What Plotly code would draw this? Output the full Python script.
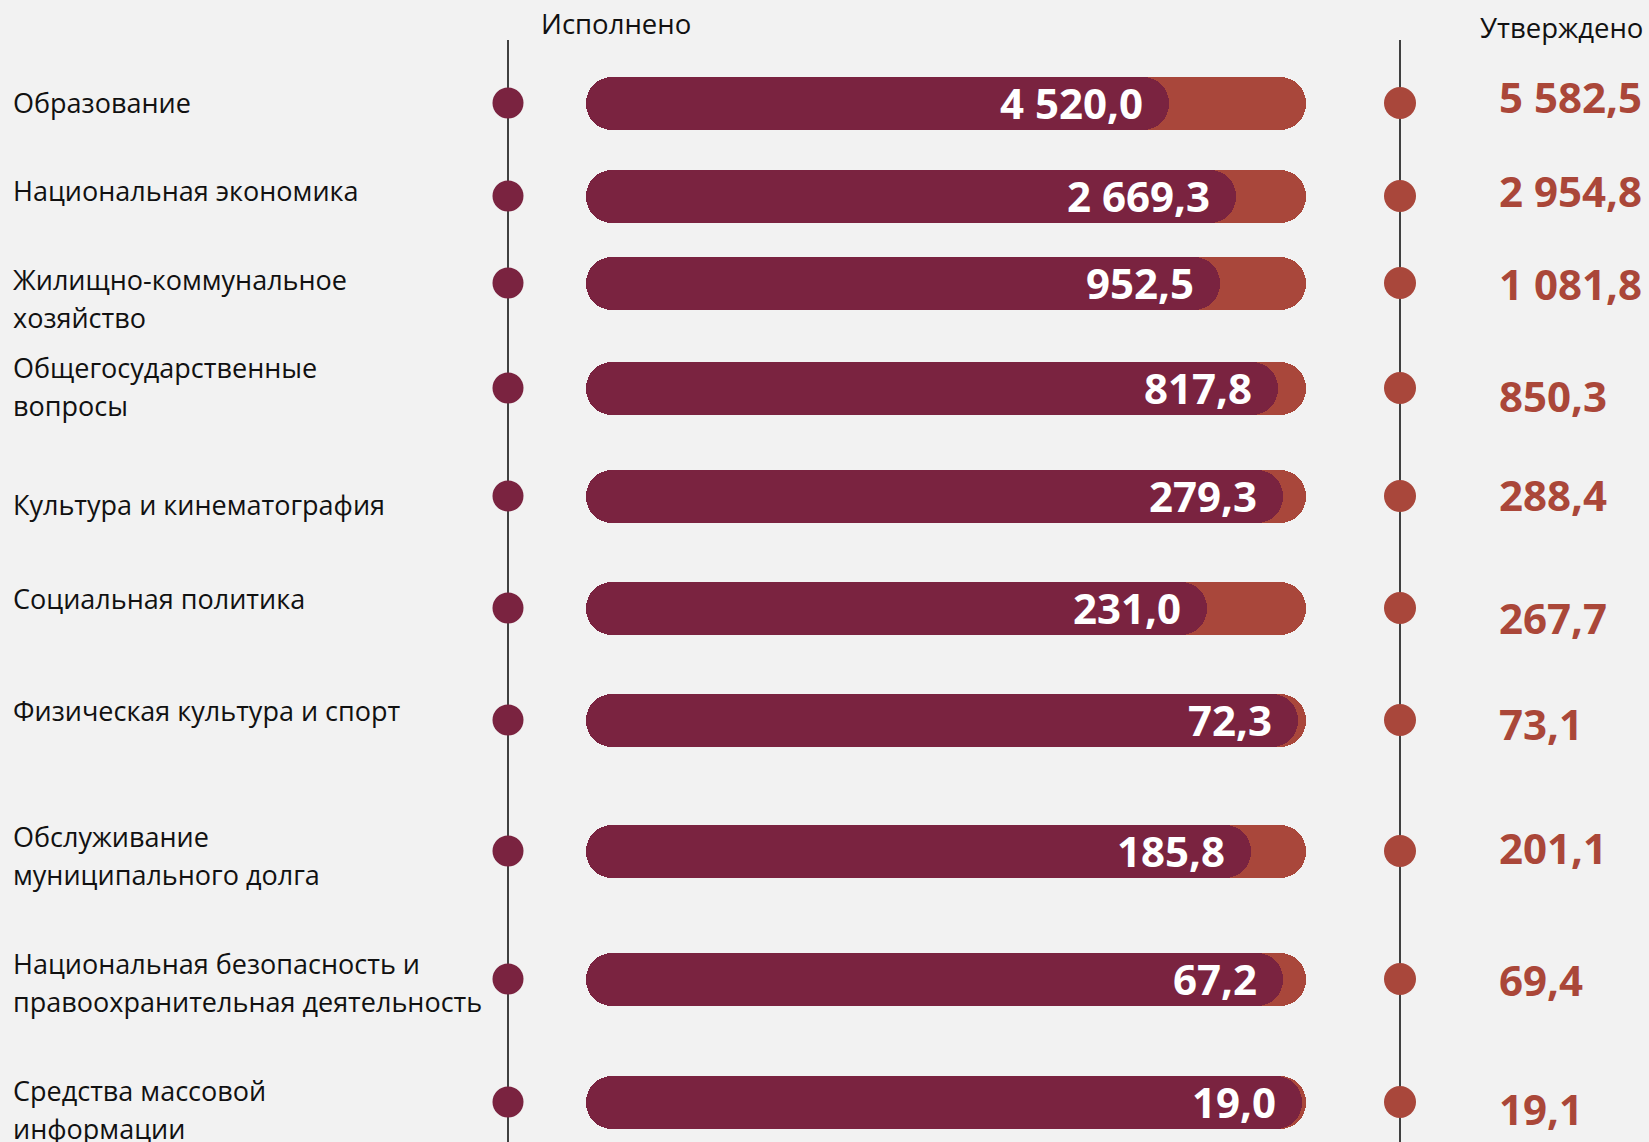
import plotly.graph_objects as go

# ---- data ----
categories = [
    "Образование",
    "Национальная экономика",
    "Жилищно-коммунальное\nхозяйство",
    "Общегосударственные\nвопросы",
    "Культура и кинематография",
    "Социальная политика",
    "Физическая культура и спорт",
    "Обслуживание\nмуниципального долга",
    "Национальная безопасность и\nправоохранительная деятельность",
    "Средства массовой\nинформации",
]
executed = [4520.0, 2669.3, 952.5, 817.8, 279.3, 231.0, 72.3, 185.8, 67.2, 19.0]
approved = [5582.5, 2954.8, 1081.8, 850.3, 288.4, 267.7, 73.1, 201.1, 69.4, 19.1]

# ---- layout (pixel positions, figure is 1649 x 1142) ----
W, H = 1649, 1142
row_y = [103, 196, 283, 388, 496, 608, 720, 851, 979, 1102]
label_y = [102, 190, 279, 367, 504, 598, 710, 836, 963, 1090]
approved_text_y = [96, 190, 283, 395, 494, 617, 723, 847, 979, 1108]
line_gap = 38
left_line_x, right_line_x = 508, 1400
bar_x0, bar_x1 = 586, 1306
bar_h = 53

DARK = "#7A2340"
LIGHT = "#A9473B"
BG = "#F2F2F2"
FONT = "Open Sans"

def fmt(v):
    return f"{v:,.1f}".replace(",", " ").replace(".", ",")

pct = [e / a * 100 for e, a in zip(executed, approved)]

fig = go.Figure()

split = 55  # the bar is drawn as two overlapping halves so both ends are rounded
n = len(row_y)
bar_common = dict(orientation="h", width=bar_h, hoverinfo="skip", showlegend=False)
# approved (full length) bar
fig.add_trace(go.Bar(y=row_y, x=[-split] * n, base=[split] * n,
                     marker=dict(color=LIGHT, cornerradius=27, line_width=0), **bar_common))
fig.add_trace(go.Bar(y=row_y, x=[100 - (split - 10)] * n, base=[split - 10] * n,
                     marker=dict(color=LIGHT, cornerradius=27, line_width=0), **bar_common))
# executed bar
fig.add_trace(go.Bar(y=row_y, x=[-split] * n, base=[split] * n,
                     marker=dict(color=DARK, cornerradius=27, line_width=0), **bar_common))
fig.add_trace(go.Bar(y=row_y, x=[p - (split - 10) for p in pct], base=[split - 10] * n,
                     marker=dict(color=DARK, cornerradius=27, line_width=0), **bar_common))

# dots on the vertical lines (full-width pixel axis x2)
fig.add_trace(go.Scatter(x=[left_line_x] * n, y=row_y, mode="markers", xaxis="x2", yaxis="y",
                         marker=dict(color=DARK, size=31, line_width=0), hoverinfo="skip", showlegend=False))
fig.add_trace(go.Scatter(x=[right_line_x] * n, y=row_y, mode="markers", xaxis="x2", yaxis="y",
                         marker=dict(color=LIGHT, size=32, line_width=0), hoverinfo="skip", showlegend=False))

annotations = []
# executed values inside bars
for p, e, y in zip(pct, executed, row_y):
    annotations.append(dict(x=p, y=y, xref="x", yref="y", text=fmt(e), showarrow=False,
                            xanchor="right", yanchor="middle", xshift=-24, yshift=1,
                            font=dict(family=FONT, size=42, color="white", weight="bold")))
# approved values at right
for a, y in zip(approved, approved_text_y):
    annotations.append(dict(x=1497 / W, y=y, xref="paper", yref="y", text=fmt(a), showarrow=False,
                            xanchor="left", yanchor="middle",
                            font=dict(family=FONT, size=42, color="#AA4739", weight="bold")))
# category labels
for c, y in zip(categories, label_y):
    for i, line in enumerate(c.split("\n")):
        annotations.append(dict(x=11 / W, y=y + i * line_gap, xref="paper", yref="y", text=line,
                                showarrow=False, xanchor="left", yanchor="middle",
                                font=dict(family=FONT, size=27, color="#111111")))
# headers
annotations.append(dict(x=539 / W, y=23, xref="paper", yref="y", text="Исполнено", showarrow=False,
                        xanchor="left", yanchor="middle", font=dict(family=FONT, size=27.5, color="#111111")))
annotations.append(dict(x=1478 / W, y=27, xref="paper", yref="y", text="Утверждено", showarrow=False,
                        xanchor="left", yanchor="middle", font=dict(family=FONT, size=27.5, color="#111111")))

shapes = [
    dict(type="line", xref="x2", yref="y", x0=left_line_x, x1=left_line_x, y0=40, y1=H,
         line=dict(color="#404040", width=2), layer="below"),
    dict(type="line", xref="x2", yref="y", x0=right_line_x, x1=right_line_x, y0=40, y1=H,
         line=dict(color="#404040", width=2), layer="below"),
]

fig.update_layout(
    width=W, height=H,
    margin=dict(l=0, r=0, t=0, b=0),
    paper_bgcolor=BG, plot_bgcolor="rgba(0,0,0,0)",
    barmode="overlay", bargap=0,
    xaxis=dict(domain=[bar_x0 / W, bar_x1 / W], range=[0, 100], visible=False, fixedrange=True, anchor="y"),
    xaxis2=dict(domain=[0, 1], range=[0, W], visible=False, fixedrange=True, anchor="y"),
    yaxis=dict(domain=[0, 1], range=[H, 0], visible=False, fixedrange=True),
    annotations=annotations,
    shapes=shapes,
    font=dict(family=FONT),
)

fig.write_html(
    "out.html",
    config={"displayModeBar": False},
    post_script="document.body.style.margin='0';document.body.style.background='%s';"
                "document.documentElement.style.overflow='hidden';" % BG,
)
